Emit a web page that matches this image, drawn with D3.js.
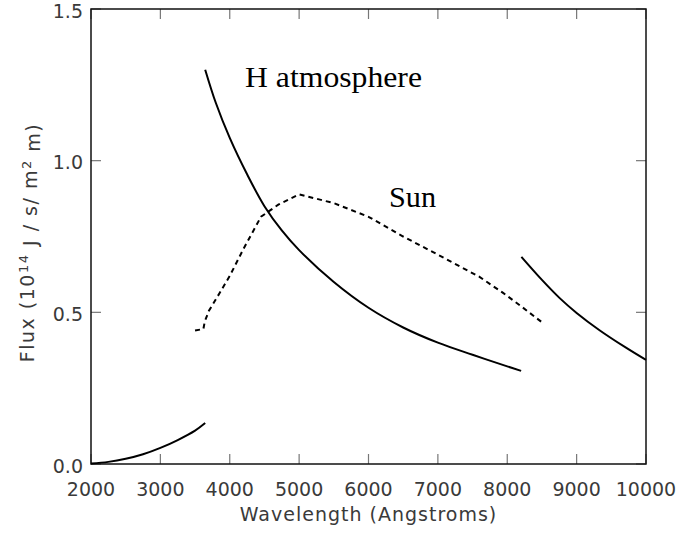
<!DOCTYPE html>
<html>
<head>
<meta charset="utf-8">
<script src="https://cdnjs.cloudflare.com/ajax/libs/d3/7.8.5/d3.min.js"></script>
<style>
  body { margin: 0; background: #fff; }
  .axis-text { font-family: "DejaVu Sans", sans-serif; font-size: 19px; fill: #3a3a3a; }
  .note { font-family: "Liberation Serif", "Times New Roman", serif; font-size: 30px; fill: #000; }
</style>
</head>
<body>
<div id="chart"></div>
<script>
// wavelength ticks (Angstroms) and flux ticks
var xTicks = [2000, 3000, 4000, 5000, 6000, 7000, 8000, 9000, 10000];
var yTicks = [0.0, 0.5, 1.0, 1.5];

// H atmosphere, three continua (Balmer edge ~3646, Paschen edge ~8204)
var hLymanWave = [2000, 2250, 2500, 2750, 3000, 3250, 3500, 3646];
var hLymanFlux = [0.002, 0.007, 0.017, 0.032, 0.053, 0.079, 0.11, 0.135];

var hBalmerWave = [3646, 3800, 4000, 4250, 4500, 4750, 5000, 5500, 6000, 6500, 7000, 7500, 8000, 8200];
var hBalmerFlux = [1.30, 1.19, 1.075, 0.955, 0.85, 0.77, 0.705, 0.60, 0.515, 0.45, 0.40, 0.36, 0.322, 0.307];

var hPaschenWave = [8204, 8500, 8760, 9000, 9330, 9700, 10000];
var hPaschenFlux = [0.683, 0.607, 0.546, 0.498, 0.441, 0.385, 0.343];

// Sun (dashed)
var sunWave = [3500, 3620, 3640, 3700, 3850, 4000, 4200, 4450, 4700, 5000, 5500, 6000, 6500, 7000, 7600, 7940, 8200, 8490];
var sunFlux = [0.44, 0.445, 0.47, 0.505, 0.562, 0.62, 0.71, 0.815, 0.855, 0.889, 0.86, 0.815, 0.75, 0.69, 0.617, 0.564, 0.52, 0.469];

var margin = { top: 9, right: 37, bottom: 69, left: 91 };
var width = 683 - margin.left - margin.right;
var height = 533 - margin.top - margin.bottom;

var svg = d3.select("#chart").append("svg")
    .attr("width", 683)
    .attr("height", 533);

var g = svg.append("g")
    .attr("transform", "translate(" + margin.left + "," + margin.top + ")");

var x = d3.scaleLinear().domain([2000, 10000]).range([0, width]);
var y = d3.scaleLinear().domain([0, 1.5]).range([height, 0]);

// tick marks, all four sides, pointing inward
var tickLen = 10;
var tickColor = "#777";

g.selectAll(".xtick-b").data(xTicks).enter().append("line")
    .attr("x1", function(d) { return x(d); }).attr("x2", function(d) { return x(d); })
    .attr("y1", height).attr("y2", height - tickLen)
    .attr("stroke", tickColor).attr("stroke-width", 1.2);
g.selectAll(".xtick-t").data(xTicks).enter().append("line")
    .attr("x1", function(d) { return x(d); }).attr("x2", function(d) { return x(d); })
    .attr("y1", 0).attr("y2", tickLen)
    .attr("stroke", tickColor).attr("stroke-width", 1.2);
g.selectAll(".ytick-l").data(yTicks).enter().append("line")
    .attr("x1", 0).attr("x2", tickLen)
    .attr("y1", function(d) { return y(d); }).attr("y2", function(d) { return y(d); })
    .attr("stroke", tickColor).attr("stroke-width", 1.2);
g.selectAll(".ytick-r").data(yTicks).enter().append("line")
    .attr("x1", width).attr("x2", width - tickLen)
    .attr("y1", function(d) { return y(d); }).attr("y2", function(d) { return y(d); })
    .attr("stroke", tickColor).attr("stroke-width", 1.2);

// frame
g.append("rect")
    .attr("x", 0).attr("y", 0)
    .attr("width", width).attr("height", height)
    .attr("fill", "none")
    .attr("stroke", "#111")
    .attr("stroke-width", 1.5);

// tick labels
g.selectAll(".xlab").data(xTicks).enter().append("text")
    .attr("class", "axis-text")
    .attr("x", function(d) { return x(d); })
    .attr("y", height + 32)
    .attr("text-anchor", "middle")
    .text(function(d) { return d; });

g.selectAll(".ylab").data(yTicks).enter().append("text")
    .attr("class", "axis-text")
    .attr("x", -8)
    .attr("y", function(d) { return y(d); })
    .attr("dy", "0.45em")
    .attr("text-anchor", "end")
    .text(function(d) { return d3.format(".1f")(d); });

// axis titles
g.append("text")
    .attr("class", "axis-text")
    .attr("x", width / 2)
    .attr("y", height + 57)
    .attr("text-anchor", "middle")
    .attr("letter-spacing", "1px")
    .text("Wavelength (Angstroms)");

var ytitle = svg.append("text")
    .attr("class", "axis-text")
    .attr("transform", "translate(34," + (margin.top + height / 2 + 6) + ") rotate(-90)")
    .attr("text-anchor", "middle")
    .attr("letter-spacing", "1.5px");
ytitle.append("tspan").text("Flux (10");
ytitle.append("tspan").attr("dy", "-0.5em").attr("font-size", "13px").text("14");
ytitle.append("tspan").attr("dy", "0.5em").text(" J / s/ m");
ytitle.append("tspan").attr("dy", "-0.5em").attr("font-size", "13px").text("2");
ytitle.append("tspan").attr("dy", "0.5em").text(" m)");

// curves
var line = d3.line()
    .x(function(d) { return x(d[0]); })
    .y(function(d) { return y(d[1]); })
    .curve(d3.curveCatmullRom);

function pairs(w, f) {
    return w.map(function(v, i) { return [v, f[i]]; });
}

[pairs(hLymanWave, hLymanFlux), pairs(hBalmerWave, hBalmerFlux), pairs(hPaschenWave, hPaschenFlux)]
    .forEach(function(seg) {
        g.append("path")
            .datum(seg)
            .attr("d", line)
            .attr("fill", "none")
            .attr("stroke", "#000")
            .attr("stroke-width", 2);
    });

g.append("path")
    .datum(pairs(sunWave, sunFlux))
    .attr("d", d3.line().x(function(d) { return x(d[0]); }).y(function(d) { return y(d[1]); }))
    .attr("fill", "none")
    .attr("stroke", "#000")
    .attr("stroke-width", 2)
    .attr("stroke-dasharray", "5,4");

// labels
svg.append("text").attr("class", "note").attr("x", 245).attr("y", 87)
    .attr("textLength", 177).attr("lengthAdjust", "spacingAndGlyphs").text("H atmosphere");
svg.append("text").attr("class", "note").attr("x", 389).attr("y", 207)
    .attr("textLength", 47).attr("lengthAdjust", "spacingAndGlyphs").text("Sun");
</script>
</body>
</html>
